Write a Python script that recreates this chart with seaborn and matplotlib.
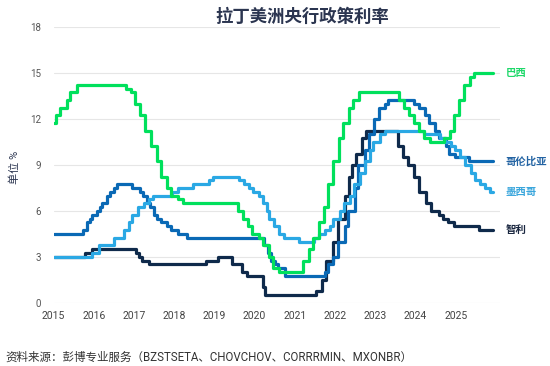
import pandas as pd
import numpy as np
import seaborn as sns
import matplotlib.pyplot as plt

# Policy rate change dates and levels (%)
brazil_dates = ['2015-01-01', '2015-01-22', '2015-03-05', '2015-04-30', '2015-06-04', '2015-07-30',
                '2016-10-20', '2016-12-01', '2017-01-12', '2017-02-23', '2017-04-13', '2017-06-01',
                '2017-07-27', '2017-09-07', '2017-10-26', '2017-12-07', '2018-02-08', '2018-03-22',
                '2019-08-01', '2019-09-19', '2019-10-31', '2019-12-12', '2020-02-06', '2020-03-19',
                '2020-05-07', '2020-06-18', '2020-08-06', '2021-03-18', '2021-05-06', '2021-06-17',
                '2021-08-05', '2021-09-23', '2021-10-28', '2021-12-09', '2022-02-03', '2022-03-17',
                '2022-05-05', '2022-06-16', '2022-08-04', '2023-08-03', '2023-09-21', '2023-11-02',
                '2023-12-14', '2024-02-01', '2024-03-21', '2024-05-09', '2024-09-19', '2024-11-07',
                '2024-12-12', '2025-01-30', '2025-03-20', '2025-05-08', '2025-06-19', '2025-12-05']
brazil_rates = [11.75, 12.25, 12.75, 13.25, 13.75, 14.25,
                14.00, 13.75, 13.00, 12.25, 11.25, 10.25,
                9.25, 8.25, 7.50, 7.00, 6.75, 6.50,
                6.00, 5.50, 5.00, 4.50, 4.25, 3.75,
                3.00, 2.25, 2.00, 2.75, 3.50, 4.25,
                5.25, 6.25, 7.75, 9.25, 10.75, 11.75,
                12.75, 13.25, 13.75, 13.25, 12.75, 12.25,
                11.75, 11.25, 10.75, 10.50, 10.75, 11.25,
                12.25, 13.25, 14.25, 14.75, 15.00, 15.00]

chile_dates = ['2015-01-01', '2015-10-15', '2015-12-17', '2017-01-19', '2017-02-16', '2017-03-16',
               '2017-05-18', '2018-10-18', '2019-01-31', '2019-06-07', '2019-09-04', '2019-10-23',
               '2020-03-16', '2020-03-31', '2021-07-14', '2021-08-31', '2021-10-13', '2021-12-14',
               '2022-01-26', '2022-03-29', '2022-05-03', '2022-06-07', '2022-07-13', '2022-09-06',
               '2022-10-12', '2023-07-28', '2023-09-05', '2023-10-25', '2023-12-19', '2024-01-31',
               '2024-04-02', '2024-05-22', '2024-07-31', '2024-09-03', '2024-10-17', '2024-12-17',
               '2025-07-29', '2025-12-05']
chile_rates = [3.00, 3.25, 3.50, 3.25, 3.00, 2.75,
               2.50, 2.75, 3.00, 2.50, 2.00, 1.75,
               1.00, 0.50, 0.75, 1.50, 2.75, 4.00,
               5.50, 7.00, 8.25, 9.00, 9.75, 10.75,
               11.25, 10.25, 9.50, 9.00, 8.25, 7.25,
               6.50, 6.00, 5.75, 5.50, 5.25, 5.00,
               4.75, 4.75]

colombia_dates = ['2015-01-01', '2015-09-30', '2015-10-30', '2015-11-27', '2015-12-18', '2016-01-29',
                  '2016-02-26', '2016-03-18', '2016-04-29', '2016-05-31', '2016-06-30', '2016-07-29',
                  '2016-12-16', '2017-02-24', '2017-03-24', '2017-04-28', '2017-05-26', '2017-06-30',
                  '2017-07-31', '2017-08-31', '2017-10-31', '2017-11-30', '2018-01-31', '2018-04-30',
                  '2020-03-27', '2020-04-30', '2020-05-29', '2020-06-30', '2020-07-31', '2020-09-30',
                  '2021-09-30', '2021-10-29', '2021-12-17', '2022-01-28', '2022-03-31', '2022-04-29',
                  '2022-06-30', '2022-07-29', '2022-09-30', '2022-10-31', '2022-12-16', '2023-01-31',
                  '2023-03-31', '2023-04-28', '2023-12-19', '2024-01-31', '2024-03-22', '2024-04-30',
                  '2024-06-28', '2024-07-31', '2024-09-30', '2024-10-31', '2024-12-19', '2025-04-30',
                  '2025-12-05']
colombia_rates = [4.50, 4.75, 5.25, 5.50, 5.75, 6.00,
                  6.25, 6.50, 7.00, 7.25, 7.50, 7.75,
                  7.50, 7.25, 7.00, 6.50, 6.25, 5.75,
                  5.50, 5.25, 5.00, 4.75, 4.50, 4.25,
                  3.75, 3.25, 2.75, 2.50, 2.25, 1.75,
                  2.00, 2.50, 3.00, 4.00, 5.00, 6.00,
                  7.50, 9.00, 10.00, 11.00, 12.00, 12.75,
                  13.00, 13.25, 13.00, 12.75, 12.25, 11.75,
                  11.25, 10.75, 10.25, 9.75, 9.50, 9.25,
                  9.25]

mexico_dates = ['2015-01-01', '2015-12-17', '2016-02-17', '2016-06-30', '2016-09-29', '2016-11-17',
                '2016-12-15', '2017-02-09', '2017-03-30', '2017-05-18', '2017-06-22', '2017-12-14',
                '2018-02-08', '2018-06-21', '2018-11-15', '2018-12-20', '2019-08-15', '2019-09-26',
                '2019-11-14', '2019-12-19', '2020-02-13', '2020-03-20', '2020-04-21', '2020-05-14',
                '2020-06-25', '2020-08-13', '2020-09-24', '2021-02-11', '2021-06-24', '2021-08-12',
                '2021-09-30', '2021-11-11', '2021-12-16', '2022-02-10', '2022-03-24', '2022-05-12',
                '2022-06-23', '2022-08-11', '2022-09-29', '2022-11-10', '2022-12-15', '2023-02-09',
                '2023-03-30', '2024-03-21', '2024-08-08', '2024-09-26', '2024-11-14', '2024-12-19',
                '2025-02-06', '2025-03-27', '2025-05-15', '2025-06-26', '2025-08-07', '2025-09-25',
                '2025-11-06', '2025-12-05']
mexico_rates = [3.00, 3.25, 3.75, 4.25, 4.75, 5.25,
                5.75, 6.25, 6.50, 6.75, 7.00, 7.25,
                7.50, 7.75, 8.00, 8.25, 8.00, 7.75,
                7.50, 7.25, 7.00, 6.50, 6.00, 5.50,
                5.00, 4.50, 4.25, 4.00, 4.25, 4.50,
                4.75, 5.00, 5.50, 6.00, 6.50, 7.00,
                7.75, 8.50, 9.25, 10.00, 10.50, 11.00,
                11.25, 11.00, 10.75, 10.50, 10.25, 10.00,
                9.50, 9.00, 8.50, 8.00, 7.75, 7.50,
                7.25, 7.25]

countries = ['智利', '哥伦比亚', '墨西哥', '巴西']
line_colors = {'巴西': '#00e05c', '哥伦比亚': '#0a69b5', '墨西哥': '#2aa8e4', '智利': '#0f2a4b'}
label_colors = {'巴西': '#1fd86a', '哥伦比亚': '#2464a3', '墨西哥': '#3aa6dc', '智利': '#1a2740'}

series = {'巴西': (brazil_dates, brazil_rates), '智利': (chile_dates, chile_rates),
          '哥伦比亚': (colombia_dates, colombia_rates), '墨西哥': (mexico_dates, mexico_rates)}

frames = []
for name, (d, r) in series.items():
    dt = pd.to_datetime(pd.Series(d))
    frames.append(pd.DataFrame({'year': dt.dt.year + (dt.dt.dayofyear - 1) / 365.25,
                                'rate': r, 'country': name}))
df = pd.concat(frames, ignore_index=True)

sns.set_theme(style='white')
plt.rcParams['font.family'] = ['Roboto', 'Noto Sans CJK SC', 'DejaVu Sans']

fig = plt.figure(figsize=(5.5, 3.66), dpi=100)
ax = fig.add_axes([0.0973, 0.173, 0.812, 0.752])

# Step lines, one per country
for i, name in enumerate(countries):
    sub = df[df['country'] == name]
    sns.lineplot(data=sub, x='year', y='rate', ax=ax, color=line_colors[name],
                 drawstyle='steps-post', linewidth=2.3, estimator=None, sort=False,
                 zorder=3 + i)

ax.set_xlim(2015, 2026.1)
ax.set_ylim(0, 18)
ax.set_xticks(range(2015, 2026))
ax.set_yticks(range(0, 19, 3))
ax.grid(axis='y', color='#e6e6e6', linewidth=0.8)
ax.grid(axis='x', visible=False)
for s in ax.spines.values():
    s.set_visible(False)
ax.tick_params(axis='x', length=3, color='#dddddd', width=0.8, labelsize=7.5, labelcolor='#444444', pad=3)
ax.tick_params(axis='y', length=0, labelsize=7, labelcolor='#555555', pad=9)
ax.set_xlabel('')
ax.set_ylabel('单位 %', fontsize=8, color='#2b3550')
ax.yaxis.set_label_coords(-0.075, 0.49)

# Country names at the right end of each line
for name in countries:
    last = df[df['country'] == name]['rate'].iloc[-1]
    ax.text(1.012, last, name, transform=ax.get_yaxis_transform(), va='center', ha='left',
            fontsize=7.5, fontweight='bold', color=label_colors[name])

fig.text(0.549, 0.956, '拉丁美洲央行政策利率', ha='center', va='center', fontsize=12.5,
         fontweight='bold', color='#2b3550')
fig.text(0.009, 0.025, '资料来源：彭博专业服务（BZSTSETA、CHOVCHOV、CORRRMIN、MXONBR）',
         ha='left', va='center', fontsize=8.3, color='#333333')

plt.savefig('out.png', dpi=100)
plt.close()
print('Finished')
